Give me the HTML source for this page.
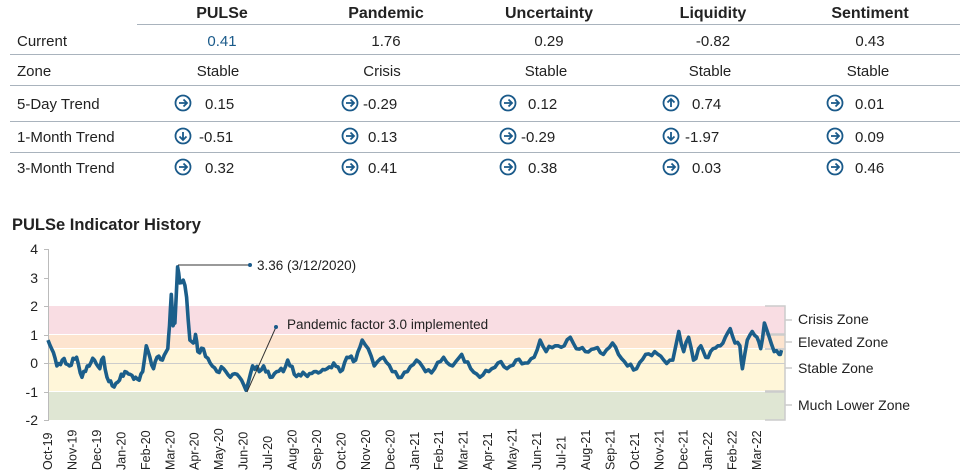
<!DOCTYPE html>
<html><head><meta charset="utf-8"><style>
body{margin:0;background:#fff;width:960px;height:475px;overflow:hidden;font-family:"Liberation Sans",Arial,sans-serif;color:#222}
svg{position:absolute;left:0;top:0}
</style></head><body>
<svg width="960" height="475" viewBox="0 0 960 475" font-family="Liberation Sans, Arial, sans-serif">
<defs><g id="ar"><circle cx="0" cy="0" r="7.5" fill="none" stroke="#1a5a8a" stroke-width="1.8"/><path d="M-4 0H4M0.5-3.5L4 0L0.5 3.5" fill="none" stroke="#1a5a8a" stroke-width="1.8"/></g>
<g id="dn"><circle cx="0" cy="0" r="7.5" fill="none" stroke="#1a5a8a" stroke-width="1.8"/><path d="M0-4V4M-3.5 0.5L0 4L3.5 0.5" fill="none" stroke="#1a5a8a" stroke-width="1.8"/></g>
<g id="up"><circle cx="0" cy="0" r="7.5" fill="none" stroke="#1a5a8a" stroke-width="1.8"/><path d="M0 4V-4M-3.5 -0.5L0 -4L3.5 -0.5" fill="none" stroke="#1a5a8a" stroke-width="1.8"/></g></defs>
<g font-size="16" font-weight="bold" text-anchor="middle" fill="#222">
<text x="222" y="18">PULSe</text><text x="386" y="18">Pandemic</text><text x="549" y="18">Uncertainty</text><text x="713" y="18">Liquidity</text><text x="870" y="18">Sentiment</text></g>
<g stroke="#a9b3bd" stroke-width="1"><line x1="137" y1="24.5" x2="960" y2="24.5"/><line x1="10" y1="54.5" x2="960" y2="54.5"/><line x1="10" y1="85.5" x2="960" y2="85.5"/><line x1="10" y1="121.5" x2="960" y2="121.5"/><line x1="10" y1="152.5" x2="960" y2="152.5"/></g>
<g font-size="15" fill="#222">
<text x="17" y="46">Current</text><text x="17" y="76">Zone</text><text x="17" y="109">5-Day Trend</text><text x="17" y="142">1-Month Trend</text><text x="17" y="173">3-Month Trend</text></g>
<g font-size="15" fill="#222" text-anchor="middle">
<text x="222" y="46" fill="#1a5a8a">0.41</text><text x="386" y="46">1.76</text><text x="549" y="46">0.29</text><text x="713" y="46">-0.82</text><text x="870" y="46">0.43</text>
<text x="218" y="76">Stable</text><text x="382" y="76">Crisis</text><text x="546" y="76">Stable</text><text x="710" y="76">Stable</text><text x="868" y="76">Stable</text></g>
<g font-size="15" fill="#222">
<use href="#ar" x="183" y="103"/><text x="205" y="109">0.15</text>
<use href="#ar" x="350" y="103"/><text x="363" y="109">-0.29</text>
<use href="#ar" x="508" y="103"/><text x="528" y="109">0.12</text>
<use href="#up" x="671" y="103"/><text x="692" y="109">0.74</text>
<use href="#ar" x="835" y="103"/><text x="855" y="109">0.01</text>
<use href="#dn" x="183" y="136"/><text x="199" y="142">-0.51</text>
<use href="#ar" x="350" y="136"/><text x="368" y="142">0.13</text>
<use href="#ar" x="508" y="136"/><text x="521" y="142">-0.29</text>
<use href="#dn" x="671" y="136"/><text x="685" y="142">-1.97</text>
<use href="#ar" x="835" y="136"/><text x="855" y="142">0.09</text>
<use href="#ar" x="183" y="167"/><text x="205" y="173">0.32</text>
<use href="#ar" x="350" y="167"/><text x="368" y="173">0.41</text>
<use href="#ar" x="508" y="167"/><text x="528" y="173">0.38</text>
<use href="#ar" x="671" y="167"/><text x="692" y="173">0.03</text>
<use href="#ar" x="835" y="167"/><text x="855" y="173">0.46</text></g>
<text x="12" y="230" font-size="16.5" font-weight="bold" fill="#222">PULSe Indicator History</text>
<rect x="48" y="306" width="737" height="28" fill="#f9dde3"/>
<rect x="48" y="335" width="737" height="13" fill="#fde4cf"/>
<rect x="48" y="349" width="737" height="42" fill="#fff6d9"/>
<rect x="48" y="392" width="737" height="28" fill="#dfe6d3"/>
<line x1="48" y1="363.5" x2="785" y2="363.5" stroke="#ccc" stroke-width="1"/>
<g stroke="#ccc" stroke-width="1.5" fill="none"><path d="M765 306H785V334H765M785 320H792"/><path d="M765 335H785V349H765M785 342H792"/><path d="M765 349H785V391H765M785 368H792"/><path d="M765 392H785V420H765M785 405H792"/></g>
<g font-size="14" fill="#222"><text x="798" y="324">Crisis Zone</text><text x="798" y="347">Elevated Zone</text><text x="798" y="373">Stable Zone</text><text x="798" y="410">Much Lower Zone</text></g>
<line x1="48.5" y1="249" x2="48.5" y2="421" stroke="#bbb"/>
<g stroke="#bbb"><line x1="44" y1="249.5" x2="48" y2="249.5"/><line x1="44" y1="278.5" x2="48" y2="278.5"/><line x1="44" y1="306.5" x2="48" y2="306.5"/><line x1="44" y1="335.5" x2="48" y2="335.5"/><line x1="44" y1="363.5" x2="48" y2="363.5"/><line x1="44" y1="392.5" x2="48" y2="392.5"/><line x1="44" y1="420.5" x2="48" y2="420.5"/></g>
<g font-size="14" fill="#222" text-anchor="end"><text x="38" y="254">4</text><text x="38" y="283">3</text><text x="38" y="311">2</text><text x="38" y="340">1</text><text x="38" y="368">0</text><text x="38" y="397">-1</text><text x="38" y="425">-2</text></g>
<g id="xl" font-size="12.5" fill="#222"></g>
<path id="series" fill="none" stroke="#1b5e8a" stroke-width="3.6" stroke-linejoin="round"/>
<path d="M178 265H250" stroke="#333" stroke-width="1"/><circle cx="250" cy="265" r="2" fill="#1a5a8a"/>
<text x="257" y="270" font-size="13.5" fill="#222">3.36 (3/12/2020)</text>
<path d="M247 392L276 327" stroke="#333" stroke-width="1"/><circle cx="276" cy="327" r="2" fill="#1a5a8a"/>
<text x="287" y="329" font-size="13.5" fill="#222">Pandemic factor 3.0 implemented</text>
</svg>
<script>
var m=["Oct-19","Nov-19","Dec-19","Jan-20","Feb-20","Mar-20","Apr-20","May-20","Jun-20","Jul-20","Aug-20","Sep-20","Oct-20","Nov-20","Dec-20","Jan-21","Feb-21","Mar-21","Apr-21","May-21","Jun-21","Jul-21","Aug-21","Sep-21","Oct-21","Nov-21","Dec-21","Jan-22","Feb-22","Mar-22"];
var g=document.getElementById("xl"),s="";
m.forEach(function(t,i){var x=48+i*24.45+4;s+='<text transform="translate('+x+',470) rotate(-90)">'+t+'</text>';});
g.innerHTML=s;
var k=[[0,0.8],[0.2,0.5],[0.5,-0.1],[0.8,0.1],[1.2,-0.1],[1.6,0.2],[1.9,-0.5],[2.2,-0.1],[2.6,0.1],[2.9,-0.2],[3.1,0.2],[3.3,-0.5],[3.6,-0.8],[4,-0.6],[4.3,-0.3],[4.6,-0.4],[4.9,-0.5],[5.1,-0.6],[5.3,-0.3],[5.5,0.6],[5.7,0.2],[5.9,-0.2],[6.1,0.2],[6.4,0.1],[6.7,0.5],[6.8,1.3],[6.9,2.4],[7.0,1.3],[7.1,1.4],[7.25,3.36],[7.35,2.8],[7.5,2.9],[7.65,2.3],[7.8,0.8],[7.95,0.7],[8.05,1.0],[8.15,0.4],[8.4,0.5],[8.7,0.0],[9.0,-0.3],[9.3,-0.2],[9.6,-0.5],[9.9,-0.4],[10.1,-0.6],[10.3,-0.95],[10.6,-0.1],[10.9,-0.3],[11.1,-0.1],[11.4,-0.5],[11.7,-0.3],[12,-0.3],[12.2,0.1],[12.5,-0.4],[13,-0.4],[13.5,-0.3],[14,-0.2],[14.3,0],[14.6,-0.3],[14.9,0.2],[15.3,0.1],[15.6,0.8],[15.8,0.5],[16,-0.1],[16.3,0.2],[16.6,-0.3],[16.9,-0.5],[17.1,-0.3],[17.4,0.1],[17.7,-0.3],[18,-0.2],[18.3,0.2],[18.6,-0.1],[18.9,0.3],[19.2,-0.2],[19.5,-0.5],[19.8,-0.3],[20.1,0.0],[20.4,-0.2],[20.7,0.1],[21,0.0],[21.3,0.2],[21.5,0.8],[21.7,0.4],[22,0.6],[22.3,0.6],[22.5,0.9],[22.7,0.5],[23,0.4],[23.3,0.5],[23.6,0.3],[23.9,0.7],[24.1,0.3],[24.4,-0.1],[24.7,-0.2],[25,0.3],[25.3,0.4],[25.6,0.1],[25.9,0.1],[26.1,1.1],[26.3,0.4],[26.5,0.9],[26.7,0.1],[27,0.6],[27.2,0.2],[27.5,0.5],[27.8,0.6],[28,0.9],[28.2,1.2],[28.4,0.7],[28.6,0.6],[28.7,-0.2],[28.9,0.8],[29.1,1.1],[29.3,0.9],[29.45,0.5],[29.6,1.4],[29.8,0.9],[30.0,0.4],[30.2,0.3],[30.3,0.45]];
var A=[[0,0],[7.25,5.3],[10.3,8.1],[15.6,12.85],[26.1,25.8],[30.3,30]];
function mp(t){for(var i=0;i<A.length-1;i++){if(t<=A[i+1][0]){var f=(t-A[i][0])/(A[i+1][0]-A[i][0]);return A[i][1]+f*(A[i+1][1]-A[i][1]);}}return A[A.length-1][1];}
var d="";
for(var i=0;i<k.length-1;i++){var a=k[i],b=k[i+1];var n=Math.max(2,Math.round((b[0]-a[0])*10));for(var j=0;j<n;j++){var f=j/n,t=a[0]+(b[0]-a[0])*f,v=a[1]+(b[1]-a[1])*f+(j?0.12*Math.sin(t*37.1)*Math.cos(t*13.7):0);var x=48+mp(t)*24.45,y=363-v*28.6;d+=(d?"L":"M")+x.toFixed(1)+" "+y.toFixed(1);}}
var L=k[k.length-1];d+="L"+(48+mp(L[0])*24.45).toFixed(1)+" "+(363-L[1]*28.6).toFixed(1);
document.getElementById("series").setAttribute("d",d);
</script>
</body></html>
